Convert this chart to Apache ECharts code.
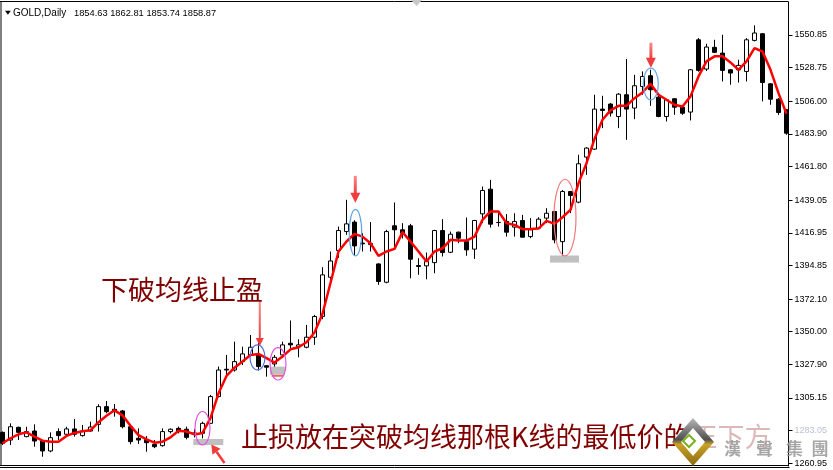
<!DOCTYPE html>
<html>
<head>
<meta charset="utf-8">
<script src="https://cdn.jsdelivr.net/npm/echarts@6/dist/echarts.min.js"></script>
<style>
  html, body { margin: 0; padding: 0; background: #fff; }
  #chart { width: 833px; height: 470px; }
</style>
</head>
<body>
<div id="chart"></div>
<script>
// Daily GOLD candles: open / high / low / close per bar
const opens = [
  1281.9, 1276.7, 1285.3, 1279.0, 1282.8, 1276.0, 1269.3, 1282.4, 1280.6, 1284.2,
  1279.7, 1282.8, 1287.3, 1299.3, 1297.5, 1296.4, 1285.7, 1277.9, 1277.2, 1273.8,
  1272.9, 1282.4, 1284.6, 1284.0, 1281.5, 1281.2, 1288.0, 1306.1, 1324.6, 1324.1,
  1329.8, 1334.3, 1334.3, 1327.0, 1328.2, 1334.3, 1342.2, 1339.9, 1339.5, 1346.3,
  1360.3, 1386.9, 1405.0, 1417.8, 1424.2, 1410.0, 1409.0, 1395.9, 1383.5, 1421.7,
  1419.0, 1421.7, 1394.8, 1394.6, 1396.8, 1418.5, 1403.8, 1417.4, 1411.0, 1405.9,
  1429.8, 1446.5, 1424.0, 1424.6, 1420.8, 1425.3, 1414.4, 1420.1, 1426.9, 1431.4,
  1411.0, 1444.9, 1437.7, 1468.2, 1473.6, 1500.7, 1504.1, 1495.7, 1510.4, 1501.4,
  1516.0, 1523.3, 1508.8, 1495.7, 1507.7, 1502.0, 1498.7, 1547.6, 1527.8, 1542.5,
  1538.6, 1527.3, 1527.3, 1526.2, 1547.2, 1551.7, 1517.8, 1507.4, 1500.2
];
const highs = [
  1282.5, 1288.0, 1285.7, 1285.7, 1287.3, 1276.7, 1281.9, 1284.6, 1285.7, 1290.9,
  1286.9, 1289.1, 1300.9, 1303.1, 1301.1, 1297.0, 1286.9, 1284.6, 1279.4, 1276.7,
  1284.6, 1284.6, 1285.8, 1285.8, 1284.0, 1289.1, 1307.2, 1326.4, 1334.3, 1343.3,
  1339.9, 1347.8, 1345.6, 1327.5, 1334.3, 1343.3, 1357.6, 1344.9, 1354.6, 1361.4,
  1393.7, 1404.3, 1421.2, 1439.3, 1425.5, 1416.7, 1424.2, 1396.4, 1419.0, 1437.5,
  1423.5, 1423.0, 1399.8, 1403.6, 1419.0, 1426.2, 1417.8, 1417.8, 1427.3, 1425.7,
  1448.3, 1452.8, 1430.2, 1429.6, 1430.2, 1429.1, 1426.9, 1427.5, 1433.6, 1431.8,
  1446.0, 1445.3, 1469.8, 1474.9, 1510.4, 1509.7, 1504.8, 1511.5, 1534.6, 1523.9,
  1526.2, 1527.3, 1509.7, 1507.0, 1508.1, 1502.5, 1527.8, 1548.8, 1544.9, 1547.6,
  1551.0, 1527.8, 1534.1, 1548.8, 1557.4, 1552.2, 1518.3, 1508.1, 1500.7
];
const lows = [
  1273.3, 1273.3, 1276.7, 1278.6, 1272.2, 1265.4, 1268.4, 1276.7, 1279.0, 1279.0,
  1279.0, 1282.4, 1282.4, 1294.8, 1292.5, 1284.6, 1273.8, 1274.0, 1268.8, 1271.2,
  1272.2, 1281.2, 1281.2, 1277.2, 1278.5, 1277.8, 1287.6, 1305.6, 1319.6, 1323.0,
  1327.5, 1333.2, 1323.7, 1319.6, 1323.0, 1333.2, 1338.8, 1332.7, 1338.8, 1341.1,
  1358.5, 1385.0, 1400.0, 1415.6, 1402.0, 1404.3, 1404.3, 1381.7, 1382.8, 1405.4,
  1413.1, 1386.2, 1388.5, 1385.5, 1389.6, 1400.9, 1403.2, 1409.9, 1401.4, 1399.3,
  1423.5, 1420.5, 1421.2, 1414.4, 1414.4, 1414.0, 1413.3, 1419.6, 1423.5, 1409.9,
  1401.3, 1430.3, 1437.0, 1456.2, 1473.1, 1487.8, 1495.7, 1487.8, 1479.9, 1493.9,
  1510.4, 1502.9, 1495.2, 1492.3, 1496.8, 1496.8, 1493.0, 1526.0, 1526.5, 1538.6,
  1519.4, 1517.2, 1518.7, 1519.4, 1546.5, 1505.9, 1503.6, 1496.8, 1483.3
];
const closes = [
  1274.5, 1285.7, 1281.9, 1282.4, 1276.0, 1269.3, 1278.3, 1279.7, 1284.2, 1280.6,
  1282.8, 1285.5, 1299.3, 1295.9, 1296.0, 1285.7, 1275.6, 1276.7, 1274.9, 1272.2,
  1282.4, 1284.0, 1282.4, 1278.5, 1281.0, 1288.0, 1306.1, 1324.1, 1324.1, 1329.8,
  1335.0, 1339.5, 1326.4, 1326.0, 1332.7, 1341.1, 1341.1, 1341.1, 1346.3, 1360.3,
  1388.5, 1397.9, 1418.5, 1423.0, 1408.1, 1409.5, 1409.8, 1384.0, 1417.8, 1419.0,
  1416.7, 1399.1, 1394.2, 1397.5, 1418.5, 1403.6, 1416.0, 1413.3, 1405.4, 1425.3,
  1445.6, 1422.8, 1423.9, 1417.4, 1424.6, 1414.0, 1419.0, 1426.2, 1430.2, 1412.2,
  1444.9, 1442.2, 1463.7, 1474.3, 1500.7, 1499.8, 1498.0, 1510.8, 1500.7, 1516.5,
  1522.8, 1513.8, 1495.7, 1507.0, 1502.0, 1497.9, 1527.3, 1526.9, 1542.7, 1539.1,
  1526.9, 1525.1, 1530.3, 1547.6, 1552.2, 1518.7, 1507.4, 1498.4, 1484.4
];
// Moving average line, one value per bar
const maValues = [
  1274.5, 1277.9, 1280.6, 1281.9, 1279.0, 1276.3, 1275.6, 1275.6, 1279.5, 1281.5,
  1282.7, 1283.3, 1288.8, 1293.1, 1296.8, 1293.4, 1286.3, 1280.0, 1277.2, 1274.9,
  1275.6, 1278.5, 1283.0, 1282.5, 1280.5, 1281.5, 1291.5, 1308.3, 1320.1, 1325.7,
  1329.8, 1334.3, 1335.0, 1332.1, 1329.1, 1333.2, 1338.1, 1339.5, 1342.9, 1349.5,
  1362.2, 1383.0, 1404.3, 1411.1, 1416.2, 1414.4, 1409.9, 1401.3, 1404.3, 1406.1,
  1417.4, 1411.1, 1404.3, 1397.5, 1404.3, 1406.5, 1412.2, 1411.7, 1411.7, 1414.4,
  1425.7, 1431.4, 1431.4, 1423.5, 1422.3, 1419.4, 1419.5, 1419.8, 1425.0, 1423.0,
  1427.5, 1432.5, 1450.6, 1464.1, 1480.5, 1493.5, 1499.8, 1502.9, 1502.9, 1508.1,
  1512.0, 1517.8, 1510.4, 1507.0, 1503.6, 1502.5, 1509.3, 1522.8, 1533.0, 1536.4,
  1536.4, 1532.3, 1527.3, 1533.0, 1542.0, 1539.7, 1527.3, 1511.5, 1497.5
];
// Price scale labels on the right
const priceTicks = [
  1260.95, 1283.05, 1305.15, 1327.90, 1350.00, 1372.10, 1394.85,
  1416.95, 1439.05, 1461.80, 1483.90, 1506.00, 1528.75, 1550.85
];
const fadedTick = 1283.05;
const headerSymbol = 'GOLD,Daily';
const headerQuote = '1854.63 1862.81 1853.74 1858.87';
const noteTakeProfit = '下破均线止盈';
const noteStopLoss = '止损放在突破均线那根K线的最低价的';
const noteStopLossTail = '正下方';
const brandChars = ['漢', '聲', '集', '團'];

const barIndex = opens.map((_, i) => String(i));
const candleData = opens.map((o, i) => [o, closes[i], lows[i], highs[i]]);

const chart = echarts.init(document.getElementById('chart'), null, { renderer: 'canvas' });

chart.setOption({
  animation: false,
  backgroundColor: '#ffffff',
  grid: { left: 2.5, top: 2, width: 784, height: 464 },
  xAxis: {
    type: 'category',
    data: barIndex,
    boundaryGap: false,
    show: false
  },
  yAxis: {
    type: 'value',
    position: 'right',
    offset: 2,
    min: 1259.12,
    max: 1573.19,
    splitLine: { show: false },
    axisLine: { show: true, lineStyle: { color: '#000', width: 1 } },
    axisTick: { show: true, length: 4, customValues: priceTicks, lineStyle: { color: '#000' } },
    axisLabel: {
      customValues: priceTicks,
      margin: 6,
      fontFamily: 'Liberation Sans',
      fontSize: 9,
      formatter: v => v.toFixed(2),
      color: v => (Math.abs(v - fadedTick) < 0.01 ? '#b8c4d4' : '#000000')
    }
  },
  series: [
    {
      type: 'candlestick',
      data: candleData,
      barWidth: 5,
      clip: false,
      itemStyle: {
        color: '#ffffff',
        color0: '#000000',
        borderColor: '#000000',
        borderColor0: '#000000',
        borderWidth: 1
      },
      z: 2
    },
    {
      type: 'line',
      data: maValues,
      showSymbol: false,
      symbol: 'none',
      lineStyle: { color: '#ff0000', width: 2.5 },
      z: 3
    }
  ]
});

// Helpers: fractional bar index / price -> pixel
const xBase = chart.convertToPixel({ xAxisIndex: 0 }, 0);
const xStep = chart.convertToPixel({ xAxisIndex: 0 }, 1) - xBase;
const toX = fi => xBase + xStep * fi;
const toY = p => chart.convertToPixel({ yAxisIndex: 0 }, p);

// Annotation marks, placed in bar-index / price space
const rings = [
  { at: 44.125, price: 1417.1, rx: 6.2, ry: 23.3, color: '#5ea3e6' },
  { at: 31.875, price: 1332.6, rx: 7.5, ry: 12.5, color: '#4f6fe0' },
  { at: 81.04, price: 1517.7, rx: 7.5, ry: 15.8, color: '#6aaae8' },
  { at: 25.0, price: 1284.7, rx: 7.5, ry: 16.7, color: '#e052e0' },
  { at: 34.44, price: 1328.3, rx: 8, ry: 16.2, color: '#e052e0' },
  { at: 70.31, price: 1427.3, rx: 11, ry: 38.3, color: '#f07a7a' }
];
const stopBars = [
  { from: 23.85, to: 27.6, top: 1277.4, bottom: 1273.3 },
  { from: 33.44, to: 35.31, top: 1326.4, bottom: 1320.8 },
  { from: 68.44, to: 72.06, top: 1401.6, bottom: 1396.8 }
];
const downArrows = [
  { at: 44.1, top: 1455.5, tip: 1437.3, shaft: 3, head: 10 },
  { at: 32.16, top: 1370.3, tip: 1340.4, shaft: 2, head: 8 },
  { at: 81.05, top: 1545.6, tip: 1528.7, shaft: 3, head: 10 }
];
const slantArrow = { tailAt: 27.75, tailPrice: 1261.2, tipAt: 26.1, tipPrice: 1273.7 };

const arrowColor = '#f03c3c';
const g = [];

// chart frame
const frameRight = 788.5;
g.push({ type: 'line', shape: { x1: 0, y1: 1.5, x2: frameRight, y2: 1.5 }, style: { stroke: '#000', lineWidth: 1 }, z: 20 });
g.push({ type: 'line', shape: { x1: 1, y1: 1.5, x2: 1, y2: 466 }, style: { stroke: '#000', lineWidth: 1 }, z: 20 });
g.push({ type: 'line', shape: { x1: 0, y1: 465.5, x2: frameRight, y2: 465.5 }, style: { stroke: '#000', lineWidth: 1 }, z: 20 });
g.push({ type: 'line', shape: { x1: 0, y1: 467.5, x2: frameRight + 1, y2: 467.5 }, style: { stroke: '#000', lineWidth: 1 }, z: 20 });
// shift marker at the top
g.push({ type: 'polygon', shape: { points: [[411, 0], [422, 0], [416.5, 6]] }, style: { fill: '#c8c8c8' }, z: 20 });

// header
g.push({ type: 'polygon', shape: { points: [[5, 10.7], [10.8, 10.7], [7.9, 14.7]] }, style: { fill: '#000' }, z: 20 });
g.push({ type: 'text', x: 13, y: 13, style: { text: headerSymbol, font: '10px "Liberation Sans"', fill: '#000', textVerticalAlign: 'middle' }, z: 20 });
g.push({ type: 'text', x: 74, y: 13, style: { text: headerQuote, font: '9.3px "Liberation Sans"', fill: '#000', textVerticalAlign: 'middle' }, z: 20 });

// stop-loss bars
stopBars.forEach(b => {
  const x1 = toX(b.from), x2 = toX(b.to), y1 = toY(b.top), y2 = toY(b.bottom);
  g.push({ type: 'rect', shape: { x: x1, y: y1, width: x2 - x1, height: y2 - y1 }, style: { fill: '#c0c0c0' }, z: 5 });
});
// small red underline below the second bar
g.push({ type: 'line', shape: { x1: toX(33.65), y1: toY(1320.1), x2: toX(35.1), y2: toY(1320.1) }, style: { stroke: '#ff2020', lineWidth: 1.3 }, z: 6 });

// rings around signal candles
rings.forEach(r => {
  g.push({ type: 'ellipse', shape: { cx: toX(r.at), cy: toY(r.price), rx: r.rx, ry: r.ry }, style: { fill: null, stroke: r.color, lineWidth: 1.2 }, z: 8 });
});

// vertical arrows
downArrows.forEach(a => {
  const x = toX(a.at), yTop = toY(a.top), yTip = toY(a.tip);
  const hh = a.head;
  g.push({ type: 'rect', shape: { x: x - a.shaft / 2, y: yTop, width: a.shaft, height: yTip - yTop - hh + 1 },
    style: { fill: new echarts.graphic.LinearGradient(0, 0, 0, 1, [{ offset: 0, color: '#f88a8a' }, { offset: 1, color: arrowColor }]) }, z: 9 });
  g.push({ type: 'polygon', shape: { points: [[x - hh / 2, yTip - hh], [x + hh / 2, yTip - hh], [x, yTip]] }, style: { fill: arrowColor }, z: 9 });
});

// slanted arrow pointing at the first stop bar
(function () {
  const tx = toX(slantArrow.tipAt), ty = toY(slantArrow.tipPrice);
  const sx = toX(slantArrow.tailAt), sy = toY(slantArrow.tailPrice);
  const dx = tx - sx, dy = ty - sy, len = Math.hypot(dx, dy);
  const ux = dx / len, uy = dy / len, px = -uy, py = ux;
  const hl = 9, hw = 5;
  const bx = tx - ux * hl, by = ty - uy * hl;
  g.push({ type: 'line', shape: { x1: sx, y1: sy, x2: bx, y2: by }, style: { stroke: arrowColor, lineWidth: 2.5 }, z: 9 });
  g.push({ type: 'polygon', shape: { points: [[tx, ty], [bx + px * hw, by + py * hw], [bx - px * hw, by - py * hw]] }, style: { fill: arrowColor }, z: 9 });
})();

// text notes
const noteFont = '27px "Noto Sans CJK SC"';
g.push({ type: 'text', x: 101, y: 290, style: { text: noteTakeProfit, font: noteFont, fill: '#800000', textVerticalAlign: 'middle' }, z: 12 });
g.push({ type: 'text', x: 241, y: 437, style: {
  text: '{a|' + noteStopLoss + '}{b|' + noteStopLossTail + '}',
  font: noteFont,
  textVerticalAlign: 'middle',
  rich: {
    a: { font: noteFont, fill: '#800000' },
    b: { font: noteFont, fill: 'rgba(128,0,0,0.28)' }
  }
}, z: 12 });

// brand logo
const lx = 693, ly = 442;
g.push({ type: 'polygon', shape: { points: [[lx, ly - 24], [lx + 21, ly], [lx, ly + 24], [lx - 21, ly]] },
  style: { fill: new echarts.graphic.LinearGradient(0, 0, 0, 1, [
    { offset: 0, color: '#b8b8b8' }, { offset: 0.45, color: '#505050' }, { offset: 0.55, color: '#c9a227' }, { offset: 1, color: '#8a6a10' }]) }, z: 30 });
g.push({ type: 'polygon', shape: { points: [[lx, ly - 14], [lx + 12, ly], [lx, ly + 14], [lx - 12, ly]] }, style: { fill: '#ffffff' }, z: 31 });
g.push({ type: 'polygon', shape: { points: [[lx - 4, ly - 7], [lx + 2, ly - 1], [lx - 4, ly + 5], [lx - 10, ly - 1]] }, style: { fill: null, stroke: '#7ab020', lineWidth: 2 }, z: 32 });
const brandX = [732.5, 764.5, 794.5, 820];
brandChars.forEach((ch, i) => {
  g.push({ type: 'text', x: brandX[i], y: 449, style: { text: ch, font: 'bold 17px "Noto Sans CJK TC"', fill: 'rgba(150,150,150,0.85)', textAlign: 'center', textVerticalAlign: 'middle' }, z: 30 });
});

chart.setOption({ graphic: g });
</script>
</body>
</html>
